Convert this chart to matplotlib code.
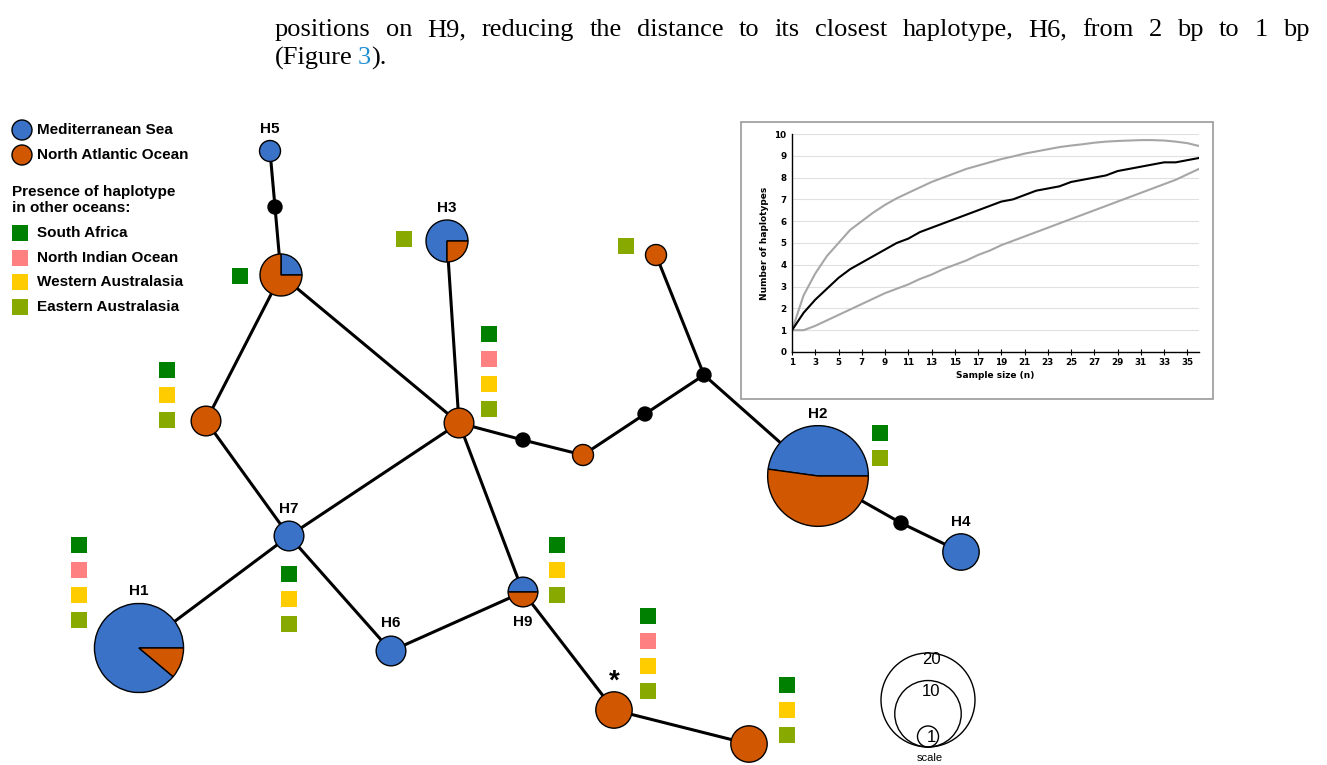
import numpy as np
import matplotlib
matplotlib.use("Agg")
import matplotlib.pyplot as plt
from matplotlib.patches import Wedge, Circle, Rectangle

# haplotype counts (Mediterranean, North Atlantic)
node_names = ["H5", "m1", "Ha", "H3", "Nb", "Nc", "m2", "Nd", "m3", "m4", "Ne",
              "H2", "m5", "H4", "H7", "H1", "H6", "H9", "Nf", "Ng"]
med_counts = [1, 0, 1, 3, 0, 0, 0, 0, 0, 0, 0, 11, 0, 3, 2, 16, 2, 1, 0, 0]
atl_counts = [0, 0, 3, 1, 2, 2, 0, 1, 0, 0, 1, 12, 0, 0, 0, 2, 0, 1, 3, 3]
labels_shown = ["H5", "H3", "H2", "H4", "H7", "H1", "H6", "H9"]

# network layout (pixel coordinates of the original drawing)
node_x = [270, 275, 281, 447, 206, 459, 523, 583, 645, 704, 656,
          818, 901, 961, 289, 139, 391, 523, 614, 749]
node_y = [151, 207, 275, 241, 421, 423, 440, 455, 414, 375, 255,
          476, 523, 552, 536, 648, 651, 592, 710, 744]
edges = [("H5", "m1"), ("m1", "Ha"), ("Ha", "Nb"), ("Ha", "Nc"), ("H3", "Nc"),
         ("Nb", "H7"), ("H7", "Nc"), ("H7", "H1"), ("H7", "H6"), ("H6", "H9"),
         ("Nc", "H9"), ("Nc", "m2"), ("m2", "Nd"), ("Nd", "m3"), ("m3", "m4"),
         ("m4", "Ne"), ("m4", "H2"), ("H2", "m5"), ("m5", "H4"), ("H9", "Nf"),
         ("Nf", "Ng")]

# presence in other oceans: SA, NIO, WA, EA
presence = {"H3": [0, 0, 0, 1], "Ha": [1, 0, 0, 0], "Ne": [0, 0, 0, 1],
            "Nc": [1, 1, 1, 1], "Nb": [1, 0, 1, 1], "H2": [1, 0, 0, 1],
            "H1": [1, 1, 1, 1], "H7": [1, 0, 1, 1], "H9": [1, 0, 1, 1],
            "Nf": [1, 1, 1, 1], "Ng": [1, 0, 1, 1]}
presence_pos = {"H3": (404, 239), "Ha": (240, 276), "Ne": (626, 246),
                "Nc": (489, 334), "Nb": (167, 370), "H2": (880, 433),
                "H1": (79, 545), "H7": (289, 574), "H9": (557, 545),
                "Nf": (648, 616), "Ng": (787, 685)}
ocean_names = ["South Africa", "North Indian Ocean", "Western Australasia",
               "Eastern Australasia"]
ocean_colors = ["#008000", "#ff8080", "#ffcc00", "#88aa00"]

# rarefaction curve
sample_n = list(range(1, 37))
hap_mean = [1, 1.8, 2.4, 2.9, 3.4, 3.8, 4.1, 4.4, 4.7, 5.0, 5.2, 5.5, 5.7, 5.9,
            6.1, 6.3, 6.5, 6.7, 6.9, 7.0, 7.2, 7.4, 7.5, 7.6, 7.8, 7.9, 8.0,
            8.1, 8.3, 8.4, 8.5, 8.6, 8.7, 8.7, 8.8, 8.9]
hap_upper = [1, 2.6, 3.6, 4.4, 5.0, 5.6, 6.0, 6.4, 6.75, 7.05, 7.3, 7.55, 7.8,
             8.0, 8.2, 8.4, 8.55, 8.7, 8.85, 8.97, 9.1, 9.2, 9.3, 9.4, 9.47,
             9.53, 9.6, 9.65, 9.68, 9.7, 9.72, 9.72, 9.7, 9.65, 9.58, 9.45]
hap_lower = [1, 1.0, 1.2, 1.45, 1.7, 1.95, 2.2, 2.45, 2.7, 2.9, 3.1, 3.35, 3.55,
             3.8, 4.0, 4.2, 4.45, 4.65, 4.9, 5.1, 5.3, 5.5, 5.7, 5.9, 6.1, 6.3,
             6.5, 6.7, 6.9, 7.1, 7.3, 7.5, 7.7, 7.9, 8.15, 8.4]

BLUE = "#3a72c8"
ORANGE = "#d15800"
UNIT = 10.5  # radius in px of a single-individual node
SQ = 16

W, H = 1327, 765
fig = plt.figure(figsize=(W / 100, H / 100), dpi=100)
ax = fig.add_axes([0, 0, 1, 1])
ax.set_xlim(0, W)
ax.set_ylim(H, 0)
ax.axis("off")

pos = {n: (x, y) for n, x, y in zip(node_names, node_x, node_y)}

for a, b in edges:
    ax.plot([pos[a][0], pos[b][0]], [pos[a][1], pos[b][1]], color="black",
            lw=2.2, zorder=1, solid_capstyle="butt")

for name, m, o in zip(node_names, med_counts, atl_counts):
    x, y = pos[name]
    tot = m + o
    if tot == 0:
        ax.add_patch(Circle((x, y), 7, color="black", zorder=3))
        continue
    r = UNIT * np.sqrt(tot)
    # y axis is inverted, so angles run clockwise on screen -> flip
    blue_deg = 360.0 * m / tot
    if m == tot:
        ax.add_patch(Circle((x, y), r, fc=BLUE, ec="black", lw=1.0, zorder=3))
    elif o == tot:
        ax.add_patch(Circle((x, y), r, fc=ORANGE, ec="black", lw=1.0, zorder=3))
    else:
        ax.add_patch(Wedge((x, y), r, -blue_deg, 0, fc=BLUE, ec="black",
                           lw=1.0, zorder=3))
        ax.add_patch(Wedge((x, y), r, 0, 360 - blue_deg, fc=ORANGE, ec="black",
                           lw=1.0, zorder=3))
    if name in labels_shown:
        off = {"H6": -28, "H9": 30}.get(name, -(r + 12))
        ax.text(x, y + off, name, ha="center", va="center", fontsize=11,
                fontweight="bold", family="Liberation Sans")

ax.text(pos["Nf"][0], pos["Nf"][1] - 28, "*", ha="center", va="center",
        fontsize=20, fontweight="bold", family="Liberation Sans")

for key, flags in presence.items():
    sx, sy = presence_pos[key]
    k = 0
    for f, c in zip(flags, ocean_colors):
        if f:
            ax.add_patch(Rectangle((sx - SQ / 2, sy + 25 * k - SQ / 2), SQ, SQ,
                                   fc=c, ec="none", zorder=2))
            k += 1

# legend
leg_font = dict(fontsize=11, fontweight="bold", family="Liberation Sans",
                va="center")
ax.add_patch(Circle((22, 130), 10, fc=BLUE, ec="black", lw=1.0))
ax.add_patch(Circle((22, 155), 10, fc=ORANGE, ec="black", lw=1.0))
ax.text(37, 130, "Mediterranean Sea", **leg_font)
ax.text(37, 155, "North Atlantic Ocean", **leg_font)
ax.text(12, 200, "Presence of haplotype\nin other oceans:", linespacing=1.1,
        **leg_font)
for i, (nm, c) in enumerate(zip(ocean_names, ocean_colors)):
    yy = 233 + 24.5 * i
    ax.add_patch(Rectangle((20 - SQ / 2, yy - SQ / 2), SQ, SQ, fc=c, ec="none"))
    ax.text(37, yy, nm, **leg_font)

# size scale
for n_sc, ty in zip([20, 10, 1], [660, 692, 737]):
    r = UNIT * np.sqrt(n_sc) * (47 / (UNIT * np.sqrt(20)))
    ax.add_patch(Circle((928, 747 - r), r, fc="none", ec="black", lw=1.0))
    ax.text(931, ty, str(n_sc), ha="center", va="center", fontsize=12,
            family="Liberation Sans")
ax.text(930, 758, "scale", ha="center", va="center", fontsize=8,
        family="Liberation Sans")

# top paragraph text, justified between x=275 and x=1310
line1 = "positions on H9, reducing the distance to its closest haplotype, H6, from 2 bp to 1 bp"
fs = 19
serif = dict(fontsize=fs, family="Liberation Serif", va="center", ha="left")
fig.canvas.draw()
rend = fig.canvas.get_renderer()
words = line1.split(" ")
wtexts = [ax.text(0, 30, w, **serif) for w in words]
widths = [t.get_window_extent(rend).width for t in wtexts]
gap = (1035 - sum(widths)) / (len(words) - 1)
xx = 275
for t, w in zip(wtexts, widths):
    t.set_x(xx)
    xx += w + gap
ta = ax.text(275, 58, "(Figure", **serif)
ea = ta.get_window_extent(rend)
tb = ax.text(275 + ea.width + 5, 58, "3", color="#1f8fd0", **serif)
eb = tb.get_window_extent(rend)
ax.text(275 + ea.width + 5 + eb.width, 58, ").", **serif)

# inset rarefaction chart
ax.add_patch(Rectangle((741, 122), 472, 277, fc="white", ec="#999999", lw=1.2,
                       zorder=0))
ins = fig.add_axes([792 / W, 1 - 352 / H, (1199 - 792) / W, (352 - 134) / H])
ins.plot(sample_n, hap_upper, color="#a6a6a6", lw=1.5)
ins.plot(sample_n, hap_lower, color="#a6a6a6", lw=1.5)
ins.plot(sample_n, hap_mean, color="black", lw=1.5)
ins.set_xlim(1, 36)
ins.set_ylim(0, 10)
ins.set_xticks(range(1, 37, 2))
ins.set_xticks(range(1, 37), minor=True)
ins.set_yticks(range(0, 11))
ins.grid(axis="y", color="#e0e0e0", lw=0.8)
ins.set_axisbelow(True)
for s in ["top", "right"]:
    ins.spines[s].set_visible(False)
ins.spines["left"].set_linewidth(1.0)
ins.spines["bottom"].set_linewidth(1.0)
ins.tick_params(axis="x", direction="inout", length=5, labelsize=6.3, pad=2)
ins.tick_params(axis="x", which="minor", length=0)
ins.tick_params(axis="y", length=0, labelsize=6.3, pad=4)
for lab in ins.get_xticklabels() + ins.get_yticklabels():
    lab.set_fontweight("bold")
ins.set_xlabel("Sample size (n)", fontsize=6.5, fontweight="bold", labelpad=3)
ins.set_ylabel("Number of haplotypes", fontsize=6.5, fontweight="bold",
               labelpad=4)

fig.savefig("out.png", dpi=100)
